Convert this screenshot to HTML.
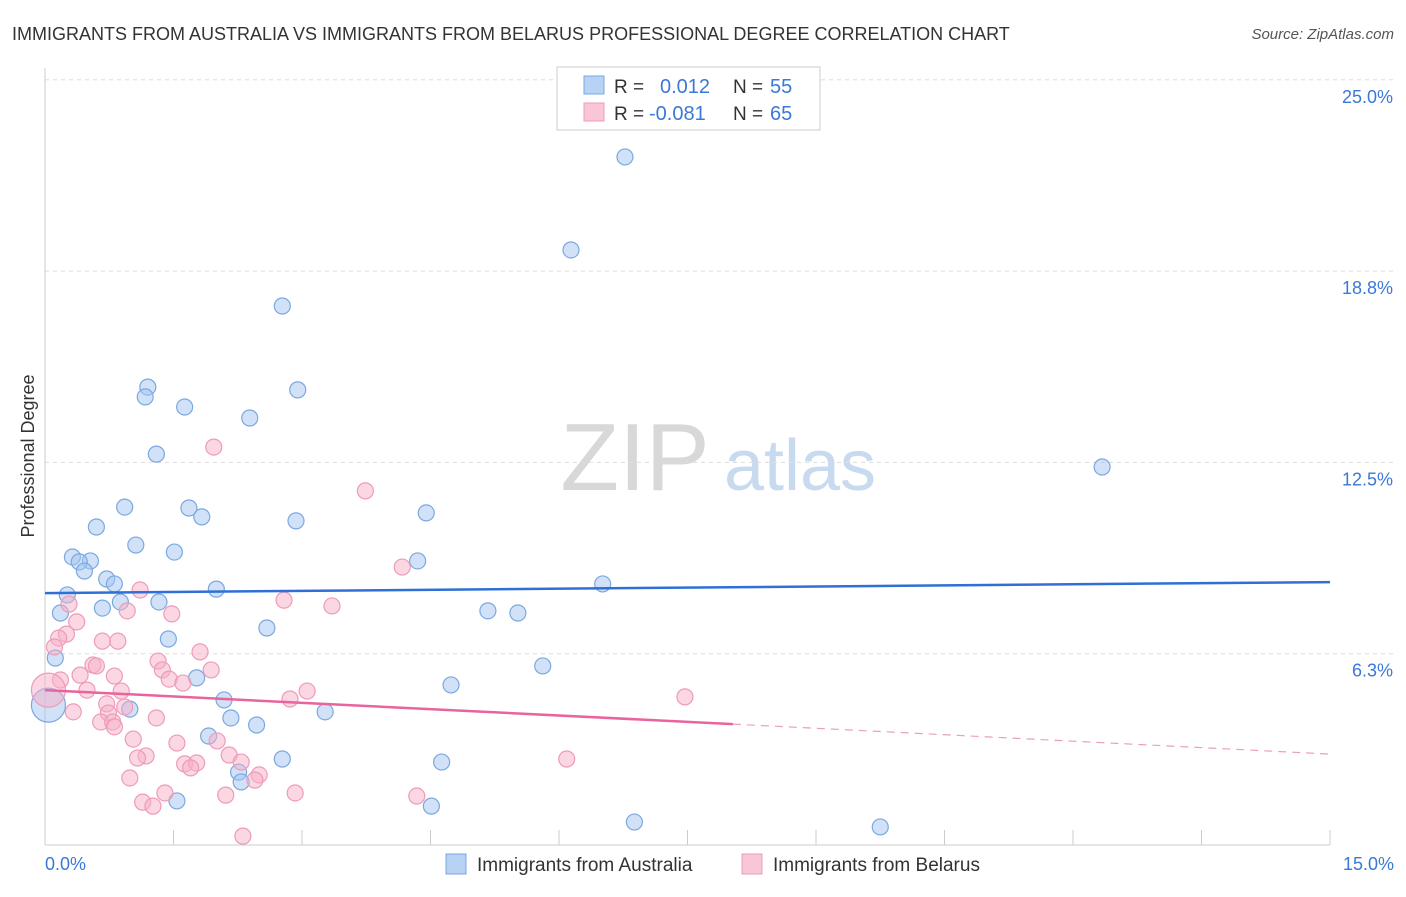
<!DOCTYPE html>
<html><head><meta charset="utf-8"><style>
body{margin:0;background:#fff;font-family:"Liberation Sans",sans-serif}
svg text{font-family:"Liberation Sans",sans-serif}
</style></head><body>
<svg id="chart" width="1406" height="892">
<text x="12" y="40" font-size="18" fill="#333">IMMIGRANTS FROM AUSTRALIA VS IMMIGRANTS FROM BELARUS PROFESSIONAL DEGREE CORRELATION CHART</text>
<text x="1394" y="39" font-size="15" fill="#555" text-anchor="end" font-style="italic">Source: ZipAtlas.com</text>
<text x="34" y="456" font-size="18" fill="#333" text-anchor="middle" transform="rotate(-90 34 456)">Professional Degree</text>
<g><text x="635" y="490" font-size="96" fill="#d8d8d8" font-family="Liberation Serif" text-anchor="middle">ZIP</text><text x="800" y="490" font-size="72" fill="#c8daf0" text-anchor="middle">atlas</text></g>
<g id="grid"></g><g id="marks"></g>
<g>
<rect x="557" y="67" width="263" height="63" fill="#fff" stroke="#ccc"/>
<rect x="584" y="76" width="20" height="18" fill="#b8d2f4" stroke="#7aa8e0"/>
<rect x="584" y="103" width="20" height="18" fill="#f8c6d6" stroke="#ee9bb8"/>
<text x="614" y="93" font-size="19" fill="#333">R =</text><text x="660" y="93" font-size="20" fill="#3b78d8">0.012</text>
<text x="733" y="93" font-size="19" fill="#333">N =</text><text x="770" y="93" font-size="20" fill="#3b78d8">55</text>
<text x="614" y="120" font-size="19" fill="#333">R =</text><text x="649" y="120" font-size="20" fill="#3b78d8">-0.081</text>
<text x="733" y="120" font-size="19" fill="#333">N =</text><text x="770" y="120" font-size="20" fill="#3b78d8">65</text>
</g>
<g>
<rect x="446" y="854" width="20" height="20" fill="#b8d2f4" stroke="#7aa8e0"/>
<text x="477" y="871" font-size="19" fill="#333">Immigrants from Australia</text>
<rect x="742" y="854" width="20" height="20" fill="#f8c6d6" stroke="#ee9bb8"/>
<text x="773" y="871" font-size="19" fill="#333">Immigrants from Belarus</text>
</g>
</svg>
<script>
const yTicks=[6.25,12.5,18.75,25];
const yTickLabels=["6.3%","12.5%","18.8%","25.0%"];
const xEndLabels=["0.0%","15.0%"];
const ausX=[6.77,6.14,2.77,1.20,1.17,2.95,1.63,2.39,1.30,12.34,0.93,1.68,1.83,2.93,4.45,0.60,1.06,1.51,0.32,0.53,0.40,0.46,4.35,0.72,0.81,6.51,2.00,0.26,0.67,0.88,1.33,0.18,5.17,5.52,2.59,1.44,0.12,5.81,1.77,4.74,2.09,0.99,3.27,2.17,2.47,1.91,2.77,4.63,2.26,2.29,1.54,4.51,6.88,9.75,0.04];
const ausY=[22.48,19.44,17.61,14.96,14.64,14.87,14.31,13.95,12.77,12.35,11.04,11.01,10.72,10.59,10.85,10.39,9.80,9.57,9.41,9.28,9.25,8.95,9.28,8.69,8.53,8.53,8.36,8.17,7.74,7.94,7.94,7.58,7.65,7.58,7.09,6.73,6.11,5.85,5.46,5.23,4.74,4.44,4.35,4.15,3.92,3.56,2.81,2.71,2.38,2.06,1.44,1.27,0.75,0.59,4.57];
const belX=[1.97,3.74,4.17,1.11,2.79,3.35,0.28,0.96,1.48,0.37,0.25,0.16,0.67,0.85,0.11,1.81,0.56,0.60,1.32,1.37,1.94,0.41,0.81,1.45,1.61,0.18,0.49,0.89,3.06,2.86,7.47,0.72,0.93,0.33,0.74,1.30,0.65,0.79,0.81,1.03,1.54,2.01,1.18,1.08,2.15,1.63,1.77,1.70,2.29,6.09,2.50,0.99,2.45,1.40,2.11,2.92,4.34,1.14,1.26,2.31,0.04];
const belY=[13.0,11.57,9.08,8.33,8.0,7.81,7.87,7.65,7.55,7.29,6.89,6.76,6.66,6.66,6.47,6.31,5.88,5.85,6.01,5.72,5.72,5.55,5.52,5.42,5.29,5.39,5.06,5.03,5.03,4.77,4.84,4.61,4.51,4.35,4.31,4.15,4.02,4.02,3.86,3.46,3.33,3.40,2.91,2.84,2.94,2.65,2.68,2.52,2.71,2.81,2.29,2.19,2.12,1.70,1.63,1.70,1.60,1.40,1.27,0.29,5.06];
const ausTrend=[8.23,8.59];
const belTrend=[5.06,3.95,2.97];
const belTrendX=[0,8.03,15];
const X=v=>45+v/15*1285, Y=v=>845-v/6.25*191.3;
const NS="http://www.w3.org/2000/svg";
function mk(p,t,a){const e=document.createElementNS(NS,t);for(const k in a)e.setAttribute(k,a[k]);p.appendChild(e);return e;}
const grid=document.getElementById('grid'),marks=document.getElementById('marks');
yTicks.forEach((t,i)=>{
 const l=mk(grid,'line',{x1:45,x2:1394,y1:Y(t),y2:Y(t),stroke:'#ddd','stroke-dasharray':'4,4'});
 
 
 const tx=mk(grid,'text',{x:1393,y:Y(t)+23,'font-size':18,fill:'#3b78d8','text-anchor':'end'});
 tx.textContent=yTickLabels[i];
 
 
});
const ax=mk(grid,'line',{x1:45,x2:1330,y1:845,y2:845,stroke:'#ccc'});


const ay=mk(grid,'line',{x1:45,x2:45,y1:68,y2:845,stroke:'#ccc'});


for(let i=0;i<=10;i++){const t=mk(grid,'line',{x1:X(i*1.5),x2:X(i*1.5),y1:830,y2:845,stroke:'#ccc'});
 
 }
xEndLabels.forEach((s,i)=>{const t=mk(grid,'text',{x:i?1394:45,y:870,'font-size':18,fill:'#3b78d8','text-anchor':i?'end':'start'});t.textContent=s;
 
 });
function pts(xs,ys,fill,stroke,name){xs.forEach((x,i)=>{const big=i===xs.length-1;
 const c=mk(marks,'circle',{cx:X(x),cy:Y(ys[i]),r:big?17:8,fill:fill,stroke:stroke,'stroke-width':1.2});
 
 });}
pts(ausX,ausY,'rgba(164,196,240,0.5)','#7aa8e0','point-australia');
pts(belX,belY,'rgba(245,176,200,0.5)','#ee9bb8','point-belarus');
const tl=mk(marks,'line',{x1:X(0),x2:X(15),y1:Y(ausTrend[0]),y2:Y(ausTrend[1]),stroke:'#2f6fd6','stroke-width':2.5});


const tp=mk(marks,'line',{x1:X(belTrendX[0]),x2:X(belTrendX[1]),y1:Y(belTrend[0]),y2:Y(belTrend[1]),stroke:'#e8649a','stroke-width':2.5});


const td=mk(marks,'line',{x1:X(belTrendX[1]),x2:X(belTrendX[2]),y1:Y(belTrend[1]),y2:Y(belTrend[2]),stroke:'#e8a0bb','stroke-width':1.2,'stroke-dasharray':'8,6'});


</script>
</body></html>
